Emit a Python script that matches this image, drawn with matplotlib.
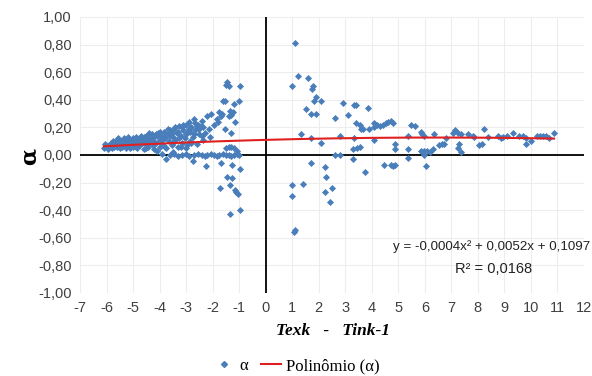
import numpy as np
import matplotlib
matplotlib.use("Agg")
from matplotlib import pyplot as plt
from matplotlib.lines import Line2D

# scatter data (left cloud, then right side)
left_x = [-6.1, -6.05, -6.0, -5.95, -5.85, -5.8, -5.75, -5.7, -5.65, -5.6, -5.55, -5.5, -5.5,
          -5.45, -5.4, -5.35, -5.3, -5.25, -5.2, -5.15, -5.1, -5.05, -5.0, -5.0,
          -4.95, -4.9, -4.85, -4.8, -4.75, -4.7, -4.65, -4.6, -4.55, -4.5, -4.5,
          -4.45, -4.4, -4.35, -4.3, -4.25, -4.2, -4.15, -4.1, -4.05, -4.0, -4.0,
          -3.95, -3.9, -3.85, -3.8, -3.75, -3.7, -3.65, -3.6, -3.55, -3.5, -3.5,
          -3.45, -3.4, -3.35, -3.3, -3.25, -3.2, -3.15, -3.1, -3.05, -3.0, -3.0,
          -2.95, -2.9, -2.85, -2.8, -2.75, -2.7, -2.65, -2.6, -2.55, -2.5,
          -2.45, -2.4, -2.35, -2.3, -2.2, -2.15, -2.1, -2.05,
          -1.95, -1.85, -1.8, -1.75, -1.7, -1.65, -1.6, -1.55, -1.52, -1.5, -1.45, -1.4,
          -1.38, -1.35, -1.3, -1.32, -1.25, -1.2, -1.14, -1.0, -0.98]
left_y = [0.05, 0.08, 0.06, 0.04, 0.09, 0.07, 0.10, 0.06, 0.08, 0.11, 0.07, 0.09, 0.05,
          0.10, 0.06, 0.12, 0.08, 0.05, 0.10, 0.07, 0.11, 0.09, 0.06, 0.12,
          0.08, 0.13, 0.05, 0.10, 0.07, 0.12, 0.09, 0.04, 0.11, 0.14, 0.08,
          0.06, 0.12, 0.10, 0.15, 0.07, 0.13, 0.09, 0.03, 0.16, 0.11, 0.06,
          0.14, 0.08, 0.17, 0.12, 0.05, 0.15, 0.10, 0.18, 0.07, 0.13, 0.02,
          0.19, 0.11, 0.16, 0.06, 0.21, 0.14, 0.09, 0.18, 0.12, 0.22, 0.05,
          0.16, 0.24, 0.10, 0.20, 0.13, 0.26, 0.18, 0.08, 0.22, 0.15,
          0.21, 0.25, 0.11, 0.16, 0.28, 0.19, 0.13, 0.30,
          0.22, 0.26, 0.24, 0.31, 0.28, 0.30, 0.39, 0.19, 0.39, 0.51, 0.53, 0.28,
          0.50, 0.32, 0.29, 0.16, 0.31, 0.37, 0.24, 0.39, 0.50]

# more points filling the dense left cloud
fill_x = [-5.9, -5.8, -5.7, -5.6, -5.45, -5.3, -5.2, -5.1, -4.95, -4.85, -4.7, -4.6,
          -4.5, -4.4, -4.3, -4.2, -4.1, -4.0, -3.9, -3.8, -3.7, -3.6, -3.5, -3.4,
          -3.3, -3.2, -3.1, -3.0, -2.9, -2.8, -2.7, -2.6, -2.5, -2.4, -5.35, -5.05,
          -4.75, -4.45, -4.15, -3.85, -3.55, -3.25, -2.95, -2.65, -2.35, -5.55, -4.9,
          -4.25, -3.65, -3.15, -2.85]
fill_y = [0.07, 0.05, 0.09, 0.06, 0.08, 0.11, 0.13, 0.05, 0.11, 0.09, 0.14, 0.13,
          0.05, 0.16, 0.12, 0.04, 0.14, 0.17, 0.11, 0.06, 0.19, 0.14, 0.09, 0.20,
          0.17, 0.06, 0.22, 0.15, 0.19, 0.09, 0.15, 0.21, 0.19, 0.14, 0.09, 0.07,
          0.10, 0.09, 0.15, 0.13, 0.16, 0.12, 0.07, 0.23, 0.20, 0.12, 0.06,
          0.10, 0.16, 0.20, 0.17]

band_x = [-3.9, -3.75, -3.6, -3.45, -3.3, -3.15, -3.0, -2.9, -2.75, -2.7, -2.55, -2.4,
          -2.3, -2.2, -2.24, -2.05, -1.95, -1.85, -1.75, -1.68, -1.6, -1.5, -1.4, -1.3,
          -1.26, -1.2, -1.1, -1.0, -0.98, -1.5, -1.4, -1.3, -1.2, -1.1,
          -1.74, -1.36, -1.26, -1.17, -1.11, -1.05, -1.33, -0.95, -1.45]
band_y = [0.01, -0.03, 0.0, 0.01, -0.01, 0.0, 0.01, -0.01, -0.04, 0.0, 0.01, 0.0,
          -0.01, 0.0, -0.08, 0.01, 0.0, -0.01, 0.0, -0.06, 0.01, 0.0, 0.0, -0.01,
          -0.07, 0.0, 0.01, 0.0, -0.10, 0.05, 0.06, 0.06, 0.05, 0.03,
          -0.24, -0.22, -0.17, -0.25, -0.27, -0.28, -0.43, -0.40, -0.16]

right_x = [1.12, 1.20, 1.0, 1.6, 1.79, 1.75, 1.91, 1.82, 2.1, 1.51, 1.70, 1.91, 1.32, 1.70,
           2.10, 1.70, 1.0, 1.0, 1.41, 2.23, 2.26, 2.23, 2.5, 2.42, 1.05, 1.12, 2.6, 2.6,
           2.8, 2.8, 2.9, 3.1, 3.33, 3.4, 3.4, 3.33, 3.55, 3.6, 3.67, 3.55, 3.45, 3.3, 3.3,
           3.74, 3.86, 4.09, 4.18, 4.1, 3.9, 4.09, 4.30, 4.43, 4.55, 4.62, 4.74, 4.80,
           4.46, 4.74, 4.80, 4.89, 4.89, 4.89, 5.37, 5.37, 5.37, 5.46, 5.62, 5.84, 5.91,
           5.96, 5.84, 5.96, 6.09, 5.96, 6.06, 6.21, 6.31, 6.34, 6.54, 6.63, 6.72, 6.79,
           7.07, 7.13, 7.26, 7.38, 7.29, 7.26, 7.35, 7.63, 7.82, 7.85, 8.05, 8.14, 8.24,
           8.39, 8.77, 8.87, 8.95, 9.11, 9.33, 9.56, 9.71, 9.81, 9.81, 10.02, 10.21,
           10.34, 10.46, 10.57, 10.69, 10.87]
right_y = [0.81, 0.57, 0.50, 0.56, 0.50, 0.48, 0.42, 0.39, 0.39, 0.33, 0.30, 0.30, 0.15, 0.12,
           0.09, -0.06, -0.22, -0.30, -0.21, -0.09, -0.16, -0.27, -0.24, -0.34, -0.56, -0.54,
           0.27, 0.0, 0.0, 0.14, 0.38, 0.29, 0.36, 0.36, 0.23, 0.12, 0.22, 0.19, 0.19, 0.06,
           0.05, 0.04, -0.03, -0.12, 0.34, 0.23, 0.22, 0.20, 0.19, 0.11, 0.21, 0.22, 0.23,
           0.24, 0.25, 0.23, -0.07, -0.07, -0.08, -0.07, 0.08, 0.04, 0.14, 0.04, -0.02, 0.22,
           0.21, 0.17, 0.15, 0.14, 0.03, 0.03, 0.03, 0.0, -0.08, 0.02, 0.04, 0.15, 0.07,
           0.08, 0.08, 0.12, 0.16, 0.18, 0.16, 0.15, 0.08, 0.05, 0.02, 0.15, 0.14, 0.13,
           0.07, 0.08, 0.19, 0.13, 0.14, 0.12, 0.13, 0.14, 0.16, 0.14, 0.14, 0.12, 0.08,
           0.10, 0.14, 0.14, 0.14, 0.14, 0.12, 0.16]

# trendline coefficients as printed on the chart
poly_a, poly_b, poly_c = -0.0004, 0.0052, 0.1097
equation = "y = -0,0004x² + 0,0052x + 0,1097"
r2_text = "R² = 0,0168"

x_ticks = list(range(-7, 13))
y_ticks = [-1.0, -0.8, -0.6, -0.4, -0.2, 0.0, 0.2, 0.4, 0.6, 0.8, 1.0]

blue = "#4A7EBB"
red = "#E02020"
tick_col = "#404040"

alpha_x = np.array(left_x + fill_x + band_x + right_x)
alpha_y = np.array(left_y + fill_y + band_y + right_y)

fig = plt.figure(figsize=(5.92, 3.76), dpi=100)
ax = fig.add_axes([80 / 592, 1 - 293 / 376, 504 / 592, 276 / 376])

ax.scatter(alpha_x, alpha_y, marker="D", s=13, color=blue, linewidths=0, zorder=3)

xs = np.linspace(alpha_x.min(), alpha_x.max(), 200)
ax.plot(xs, poly_a * xs ** 2 + poly_b * xs + poly_c, color=red, lw=1.5, zorder=4)

ax.axhline(0, color="black", lw=1.3, zorder=2)
ax.axvline(0, color="black", lw=1.3, zorder=2)

ax.set_xlim(-7, 12)
ax.set_ylim(-1, 1)
ax.set_xticks(x_ticks)
ax.set_yticks(y_ticks)
ax.set_xticklabels([str(t) for t in x_ticks])
ax.set_yticklabels([f"{t:.2f}".replace(".", ",") for t in y_ticks])
ax.tick_params(length=0, labelsize=10.5, labelcolor=tick_col, pad=6,
               labelfontfamily="Liberation Sans")
ax.grid(True, color="#EDEDED", lw=0.8)
ax.set_axisbelow(True)
for s in ax.spines.values():
    s.set_visible(False)

fig.text(590 / 592, 1 - 247 / 376, equation, ha="right", va="center", fontsize=9.6,
         family="Liberation Sans", color="#222222")
fig.text(494 / 592, 1 - 269 / 376, r2_text, ha="center", va="center", fontsize=10.5,
         family="Liberation Sans", color="#222222")

fig.text(333 / 592, 1 - 331 / 376, "Texk   -   Tink-1", ha="center", va="center",
         fontsize=12.5, family="Liberation Serif", fontweight="bold", style="italic")
fig.text(30 / 592, 1 - 156 / 376, "α", ha="center", va="center", rotation=90,
         fontsize=16, fontweight="bold", family="DejaVu Serif")

handles = [Line2D([], [], marker="D", ls="none", color=blue, markersize=3),
           Line2D([], [], color=red, lw=1.5)]
fig.legend(handles, ["α", "Polinômio (α)"], loc="center", ncol=2, frameon=False,
           bbox_to_anchor=(297 / 592, 1 - 366 / 376), prop={"family": "Liberation Serif", "size": 12},
           handlelength=1.2, handletextpad=0.3, columnspacing=0.8)

fig.savefig("out.png", dpi=100)
